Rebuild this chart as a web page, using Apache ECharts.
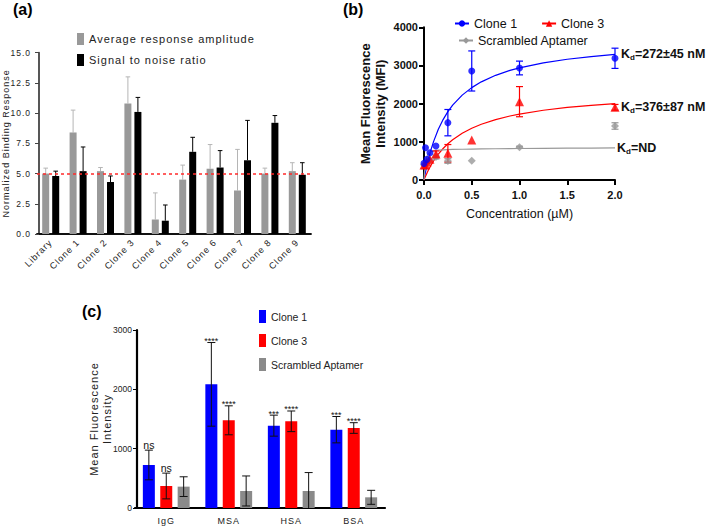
<!DOCTYPE html>
<html><head><meta charset="utf-8">
<script src="https://cdn.jsdelivr.net/npm/echarts@6/dist/echarts.min.js"></script>
<style>
html,body{margin:0;padding:0;background:#fff;}
#c{width:708px;height:527px;}
#c text[style*="Arial"]{letter-spacing:1px;}
</style></head><body><div id="c"></div>
<script>
// ---------- Panel (a) ----------
var catsA = ['Library','Clone 1','Clone 2','Clone 3','Clone 4','Clone 5','Clone 6','Clone 7','Clone 8','Clone 9'];
var ampA = [5.0, 8.4, 5.2, 10.8, 1.2, 4.5, 5.4, 3.6, 5.0, 5.2];
var ampTopA = [5.45, 10.25, 5.5, 13.0, 3.4, 5.7, 7.4, 7.0, 5.45, 5.9];
var snrA = [4.8, 5.2, 4.3, 10.1, 1.1, 6.8, 5.5, 6.1, 9.2, 4.9];
var snrTopA = [5.2, 7.2, 4.8, 11.3, 2.4, 8.0, 6.9, 9.4, 9.8, 5.9];
var thresholdA = 5;

// ---------- Panel (b) ----------
var concB = [0, 0.015625, 0.03125, 0.0625, 0.125, 0.25, 0.5, 1, 2];
var clone1B = [436, 847, 541, 716, 891, 1502, 2856, 2934, 3188];
var clone1SdB = [0, 0, 0, 0, 0, 345, 525, 180, 265];
var clone3B = [393, 400, 470, 541, 680, 699, 1048, 2052, 1904];
var clone3SdB = [0, 0, 0, 0, 80, 230, 0, 395, 75];
var scrB = [400, 420, 470, 520, 600, 498, 507, 860, 1415];
var scrSdB = [0, 0, 0, 0, 50, 60, 0, 25, 85];
var fitX = [0, 0.01, 0.02, 0.035, 0.05, 0.075, 0.1, 0.15, 0.2, 0.25, 0.3, 0.4, 0.5, 0.6, 0.75, 0.9, 1, 1.25, 1.5, 1.75, 2];
var fitClone1 = [0, 132, 256, 426, 580, 808, 1005, 1328, 1583, 1790, 1960, 2224, 2420, 2571, 2742, 2870, 2938, 3069, 3163, 3234, 3290];
var fitClone3 = [0, 62, 120, 202, 279, 395, 499, 678, 825, 950, 1054, 1225, 1356, 1461, 1583, 1676, 1727, 1827, 1900, 1956, 2000];
var fitScr = [0, 350, 520, 640, 700, 745, 765, 782, 790, 797, 800, 805, 810, 813, 818, 822, 825, 830, 833, 837, 840];
var kdLabels = ['=272±45 nM', '=376±87 nM', '=ND'];

// ---------- Panel (c) ----------
var catsC = ['IgG', 'MSA', 'HSA', 'BSA'];
var clone1C = [725, 2084, 1388, 1320];
var clone1SdC = [250, 705, 177, 222];
var clone3C = [371, 1478, 1461, 1348];
var clone3SdC = [217, 244, 174, 90];
var scrC = [360, 287, 287, 180];
var scrSdC = [166, 253, 310, 118];
var sigClone1C = ['ns', '****', '***', '***'];
var sigClone3C = ['ns', '****', '****', '****'];

var BLUE = '#0000ff', RED = '#ff0000', GRAYB = '#999999', GRAYC = '#8a8a8a';
var SANS = 'Liberation Sans';

function line(x1, y1, x2, y2, color, w) {
  return {type: 'line', shape: {x1: x1, y1: y1, x2: x2, y2: y2}, style: {stroke: color, lineWidth: w}};
}

function errA(offset, color) {
  return function (params, api) {
    var i = api.value(0);
    var b = api.coord([i, api.value(1)]);
    var t = api.coord([i, api.value(2)]);
    var x = b[0] + offset;
    return {type: 'group', children: [
      line(x, b[1], x, t[1], color, 1),
      line(x - 2.3, t[1], x + 2.3, t[1], color, 1)
    ]};
  };
}

function errB(color) {
  return function (params, api) {
    var x = api.value(0), y = api.value(1), sd = api.value(2);
    if (!sd) return {type: 'group', children: []};
    var p1 = api.coord([x, y + sd]), p2 = api.coord([x, y - sd]);
    var w = 3.5;
    return {type: 'group', children: [
      line(p1[0], p1[1], p2[0], p2[1], color, 1.2),
      line(p1[0] - w, p1[1], p1[0] + w, p1[1], color, 1.2),
      line(p2[0] - w, p2[1], p2[0] + w, p2[1], color, 1.2)
    ]};
  };
}

function errC(offset, sig) {
  return function (params, api) {
    var i = api.value(0), m = api.value(1), sd = api.value(2);
    var t = api.coord([i, m + sd]);
    var lowV = m - sd;
    var b = api.coord([i, Math.max(0, lowV)]);
    var x = t[0] + offset, w = 4;
    var ch = [line(x, t[1], x, b[1], '#111', 1), line(x - w, t[1], x + w, t[1], '#111', 1)];
    if (lowV > 0) ch.push(line(x - w, b[1], x + w, b[1], '#111', 1));
    if (sig && sig[i]) {
      var isNs = sig[i] === 'ns';
      ch.push({type: 'text', x: x, y: t[1] + (isNs ? 0 : 3), style: {
        text: sig[i], align: 'center', verticalAlign: 'bottom',
        fontSize: isNs ? 10.5 : 9, fontFamily: SANS, fill: '#111'}});
    }
    return {type: 'group', children: ch};
  };
}

function pairs(xs, ys) { return xs.map(function (x, i) { return [x, ys[i]]; }); }
function triples(xs, ys, zs) { return xs.map(function (x, i) { return [x, ys[i], zs[i]]; }); }
function idxTriples(ys, zs) { return ys.map(function (y, i) { return [i, y, zs[i]]; }); }
function plain(v) { return String(v); }

var kdRich = {
  k: {fontFamily: SANS, fontWeight: 'bold', fontSize: 12.5, lineHeight: 16, fill: '#111'},
  d: {fontFamily: SANS, fontWeight: 'bold', fontSize: 8, verticalAlign: 'bottom', fill: '#111'}
};

var chart = echarts.init(document.getElementById('c'), null, {renderer: 'svg'});

var option = {
  animation: false,
  backgroundColor: '#fff',
  grid: [
    {left: 37, top: 52.7, width: 274, height: 181.3},
    {left: 424, top: 27.3, width: 191, height: 152.7},
    {left: 135, top: 330, width: 250, height: 178}
  ],
  legend: [
    {left: 72, top: 28, orient: 'vertical', itemWidth: 7, itemHeight: 12, itemGap: 9, icon: 'rect',
     data: ['Average response amplitude', 'Signal to noise ratio'],
     textStyle: {fontFamily: 'Arial', fontSize: 11, color: '#222'}},
    {left: 449, top: 12, itemWidth: 14, itemHeight: 8, itemGap: 24,
     data: ['Clone 1', 'Clone 3'], textStyle: {fontFamily: SANS, fontSize: 12.5, color: '#111'}},
    {left: 453, top: 29, itemWidth: 14, itemHeight: 8,
     data: ['Scrambled Aptamer'], textStyle: {fontFamily: SANS, fontSize: 12.5, color: '#111'}},
    {left: 254, top: 305, orient: 'vertical', itemWidth: 7, itemHeight: 13, itemGap: 11, icon: 'rect',
     data: [{name: 'Clone 1', itemStyle: {color: BLUE}}, {name: 'Clone 3', itemStyle: {color: RED}},
            {name: 'Scrambled Aptamer', itemStyle: {color: GRAYC}}],
     textStyle: {fontFamily: SANS, fontSize: 10.5, color: '#222'}}
  ],
  xAxis: [
    {gridIndex: 0, type: 'category', data: catsA,
     axisLine: {lineStyle: {color: '#111', width: 1.8}},
     axisTick: {alignWithLabel: true, length: 4, lineStyle: {color: '#111'}},
     axisLabel: {rotate: 45, interval: 0, fontFamily: 'Arial', fontSize: 9, color: '#222', margin: 7}},
    {gridIndex: 1, type: 'value', min: 0, max: 2, interval: 0.5, splitLine: {show: false},
     axisLine: {lineStyle: {color: '#000', width: 2}},
     axisTick: {length: 5, lineStyle: {color: '#000', width: 2}},
     axisLabel: {formatter: function (v) { return v.toFixed(1); }, fontFamily: SANS, fontWeight: 'bold', fontSize: 11, color: '#111', margin: 9},
     name: 'Concentration (µM)', nameLocation: 'middle', nameGap: 27,
     nameTextStyle: {fontFamily: SANS, fontSize: 12.5, color: '#111'}},
    {gridIndex: 2, type: 'category', data: catsC,
     axisLine: {lineStyle: {color: '#000', width: 2.2}},
     axisTick: {show: false},
     axisLabel: {fontFamily: 'Arial', fontSize: 9, color: '#222', margin: 8}}
  ],
  yAxis: [
    {gridIndex: 0, type: 'value', min: 0, max: 15, interval: 2.5, offset: -2, splitLine: {show: false},
     axisLine: {show: true, lineStyle: {color: '#444', width: 1.8}},
     axisTick: {show: true, length: 4, lineStyle: {color: '#444'}},
     axisLabel: {formatter: function (v) { return v.toFixed(1); }, fontFamily: 'Arial', fontSize: 8.5, color: '#222', margin: 8},
     name: 'Normalized Binding Response', nameLocation: 'middle', nameGap: 17,
     nameTextStyle: {fontFamily: 'Arial', fontSize: 9, color: '#222'}},
    {gridIndex: 1, type: 'value', min: 0, max: 4000, interval: 1000, splitLine: {show: false},
     axisLine: {show: true, lineStyle: {color: '#000', width: 2}},
     axisTick: {show: true, length: 5, lineStyle: {color: '#000', width: 2}},
     axisLabel: {formatter: plain, fontFamily: SANS, fontWeight: 'bold', fontSize: 11, color: '#111', margin: 6},
     name: 'Mean Fluorescence\nIntensity (MFI)', nameLocation: 'middle', nameGap: 36,
     nameTextStyle: {fontFamily: SANS, fontWeight: 'bold', fontSize: 13, lineHeight: 15, color: '#111'}},
    {gridIndex: 2, type: 'value', min: 0, max: 3000, interval: 1000, offset: -2, splitLine: {show: false},
     axisLine: {show: true, lineStyle: {color: '#000', width: 2.2}},
     axisTick: {show: true, length: 4, lineStyle: {color: '#000'}},
     axisLabel: {formatter: plain, fontFamily: SANS, fontSize: 8.5, color: '#222', margin: 5},
     name: 'Mean Fluorescence\nIntensity', nameLocation: 'middle', nameGap: 24, nameMoveOverlap: false,
     nameTextStyle: {fontFamily: 'Arial', fontSize: 11, lineHeight: 13, color: '#222'}}
  ],
  series: [
    // (b) fitted curves first so legend icons come from them
    {name: 'Clone 1', type: 'line', xAxisIndex: 1, yAxisIndex: 1, data: pairs(fitX, fitClone1),
     smooth: false, showSymbol: false, symbol: 'circle', symbolSize: 7,
     lineStyle: {color: BLUE, width: 1.2}, itemStyle: {color: BLUE}, z: 2},
    {name: 'Clone 3', type: 'line', xAxisIndex: 1, yAxisIndex: 1, data: pairs(fitX, fitClone3),
     smooth: false, showSymbol: false, symbol: 'triangle', symbolSize: 9,
     lineStyle: {color: RED, width: 1.2}, itemStyle: {color: RED}, z: 2},
    {name: 'Scrambled Aptamer', type: 'line', xAxisIndex: 1, yAxisIndex: 1, data: pairs(fitX, fitScr),
     smooth: false, showSymbol: false, symbol: 'diamond', symbolSize: 8,
     lineStyle: {color: GRAYB, width: 1.2}, itemStyle: {color: GRAYB}, z: 2},
    // (b) error bars
    {type: 'custom', xAxisIndex: 1, yAxisIndex: 1, renderItem: errB(GRAYB), data: triples(concB, scrB, scrSdB), z: 3},
    {type: 'custom', xAxisIndex: 1, yAxisIndex: 1, renderItem: errB(RED), data: triples(concB, clone3B, clone3SdB), z: 3},
    {type: 'custom', xAxisIndex: 1, yAxisIndex: 1, renderItem: errB(BLUE), data: triples(concB, clone1B, clone1SdB), z: 3},
    // (b) points
    {name: 'Scrambled Aptamer', type: 'scatter', xAxisIndex: 1, yAxisIndex: 1, data: pairs(concB, scrB),
     symbol: 'diamond', symbolSize: 8, itemStyle: {color: GRAYB}, clip: false, z: 4},
    {name: 'Clone 3', type: 'scatter', xAxisIndex: 1, yAxisIndex: 1, data: pairs(concB, clone3B),
     symbol: 'triangle', symbolSize: 9, itemStyle: {color: RED}, clip: false, z: 4},
    {name: 'Clone 1', type: 'scatter', xAxisIndex: 1, yAxisIndex: 1, data: pairs(concB, clone1B),
     symbol: 'circle', symbolSize: 7, itemStyle: {color: BLUE}, clip: false, z: 4},

    // (a) bars
    {name: 'Average response amplitude', type: 'bar', xAxisIndex: 0, yAxisIndex: 0, data: ampA,
     barWidth: 7, barGap: '43%', itemStyle: {color: '#999999'},
     markLine: {silent: true, symbol: 'none', label: {show: false},
       lineStyle: {color: '#ff2a2a', type: [3, 3], width: 1.5}, data: [{yAxis: thresholdA}]}},
    {name: 'Signal to noise ratio', type: 'bar', xAxisIndex: 0, yAxisIndex: 0, data: snrA,
     barWidth: 7, barGap: '43%', itemStyle: {color: '#000000'}},
    {type: 'custom', xAxisIndex: 0, yAxisIndex: 0, renderItem: errA(-5, '#b5b5b5'), data: idxTriples(ampA, ampTopA), z: 1},
    {type: 'custom', xAxisIndex: 0, yAxisIndex: 0, renderItem: errA(5, '#000'), data: idxTriples(snrA, snrTopA), z: 1},

    // (c) bars
    {name: 'Clone 1', type: 'bar', xAxisIndex: 2, yAxisIndex: 2, data: clone1C,
     barWidth: 12, barGap: '45%', itemStyle: {color: BLUE}},
    {name: 'Clone 3', type: 'bar', xAxisIndex: 2, yAxisIndex: 2, data: clone3C,
     barWidth: 12, barGap: '45%', itemStyle: {color: RED}},
    {name: 'Scrambled Aptamer', type: 'bar', xAxisIndex: 2, yAxisIndex: 2, data: scrC,
     barWidth: 12, barGap: '45%', itemStyle: {color: GRAYC}},
    {type: 'custom', xAxisIndex: 2, yAxisIndex: 2, renderItem: errC(-17.4, sigClone1C), data: idxTriples(clone1C, clone1SdC), z: 5},
    {type: 'custom', xAxisIndex: 2, yAxisIndex: 2, renderItem: errC(0, sigClone3C), data: idxTriples(clone3C, clone3SdC), z: 5},
    {type: 'custom', xAxisIndex: 2, yAxisIndex: 2, renderItem: errC(17.4, null), data: idxTriples(scrC, scrSdC), z: 5}
  ],
  graphic: [
    {type: 'text', left: 13, top: 1, style: {text: '(a)', font: 'bold 16px Liberation Sans', fill: '#000'}},
    {type: 'text', left: 343, top: 1, style: {text: '(b)', font: 'bold 16px Liberation Sans', fill: '#000'}},
    {type: 'text', left: 82, top: 303, style: {text: '(c)', font: 'bold 16px Liberation Sans', fill: '#000'}},
    {type: 'text', left: 621, top: 47, style: {text: '{k|K}{d|d}{k|' + kdLabels[0] + '}', rich: kdRich}},
    {type: 'text', left: 621, top: 100, style: {text: '{k|K}{d|d}{k|' + kdLabels[1] + '}', rich: kdRich}},
    {type: 'text', left: 617, top: 141, style: {text: '{k|K}{d|d}{k|' + kdLabels[2] + '}', rich: kdRich}}
  ]
};
chart.setOption(option);
</script></body></html>
